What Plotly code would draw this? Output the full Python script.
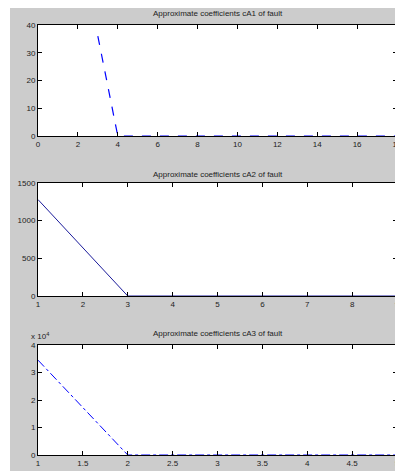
import plotly.graph_objects as go
from plotly.subplots import make_subplots

# Data
titles = ["Approximate coefficients cA1 of fault",
          "Approximate coefficients cA2 of fault",
          "Approximate coefficients cA3 of fault"]
x1 = [3, 4, 5, 6, 7, 8, 9, 10, 11, 12, 13, 14, 15, 16, 17, 18]
y1 = [36, 0, 0, 0, 0, 0, 0, 0, 0, 0, 0, 0, 0, 0, 0, 0]
x2 = [1, 2, 3, 4, 5, 6, 7, 8, 9]
y2 = [1280, 640, 0, 0, 0, 0, 0, 0, 0]
x3 = [1, 2, 3, 4, 5]
y3 = [34500, 0, 0, 0, 0]

x1_ticks = [0, 2, 4, 6, 8, 10, 12, 14, 16, 18]
y1_ticks = [0, 10, 20, 30, 40]
x2_ticks = [1, 2, 3, 4, 5, 6, 7, 8, 9]
y2_ticks = [0, 500, 1000, 1500]
x3_ticks = [1, 1.5, 2, 2.5, 3, 3.5, 4, 4.5, 5]
x3_text = ["1", "1.5", "2", "2.5", "3", "3.5", "4", "4.5", "5"]
y3_ticks = [0, 10000, 20000, 30000, 40000]
y3_text = ["0", "1", "2", "3", "4"]

OFF = 8  # page body margin
W, H = 403 - OFF, 471 - OFF
L, R, T, B = 38 - OFF, 403 - 397, 25 - OFF, 471 - 455
pw, ph = W - L - R, H - T - B

def fy(py):
    return (H - B - (py - OFF)) / ph

def fx(px):
    return (px - OFF - L) / pw

fig = make_subplots(rows=3, cols=1)
blue = "#0000ff"
fig.add_trace(go.Scatter(x=x1, y=y1, mode="lines", line=dict(color=blue, width=1.2, dash="dash")), row=1, col=1)
fig.add_trace(go.Scatter(x=x2, y=y2, mode="lines", line=dict(color="#1a1a9a", width=1)), row=2, col=1)
fig.add_trace(go.Scatter(x=x3, y=y3, mode="lines", line=dict(color=blue, width=1, dash="dashdot")), row=3, col=1)

font = dict(family="Liberation Sans, Arial", size=8, color="#222")
ax_common = dict(showgrid=False, zeroline=False, showline=True, linecolor="black", linewidth=1,
                 mirror="ticks", ticks="inside", ticklen=4, tickcolor="black", tickfont=font,
                 ticklabeloverflow="allow", automargin=False)

doms = [(fy(136), fy(25)), (fy(296), fy(183)), (fy(455), fy(345))]
fig.update_layout(
    xaxis=dict(ax_common, range=[0, 18], tickvals=x1_ticks),
    yaxis=dict(ax_common, range=[0, 40], tickvals=y1_ticks, domain=list(doms[0])),
    xaxis2=dict(ax_common, range=[1, 9], tickvals=x2_ticks),
    yaxis2=dict(ax_common, range=[0, 1500], tickvals=y2_ticks, domain=list(doms[1])),
    xaxis3=dict(ax_common, range=[1, 5], tickvals=x3_ticks, ticktext=x3_text),
    yaxis3=dict(ax_common, range=[0, 40000], tickvals=y3_ticks, ticktext=y3_text, domain=list(doms[2])),
)

shapes = [dict(type="rect", xref="paper", yref="paper", layer="below",
               x0=fx(10), x1=fx(403), y0=fy(471), y1=fy(8),
               fillcolor="#cccccc", line=dict(width=0))]
for i in ["", "2", "3"]:
    shapes.append(dict(type="rect", xref="x%s domain" % i, yref="y%s domain" % i, layer="below",
                       x0=0, x1=1, y0=0, y1=1, fillcolor="white", line=dict(width=0)))
annotations = []
title_y = [14, 174, 333]
for t, ty in zip(titles, title_y):
    annotations.append(dict(text=t, xref="paper", yref="paper", x=0.5, y=fy(ty),
                            showarrow=False, font=font, xanchor="center", yanchor="middle"))
annotations.append(dict(text="x 10<sup>4</sup>", xref="paper", yref="paper",
                        x=fx(29), y=fy(336), showarrow=False, font=font,
                        xanchor="left", yanchor="middle"))

fig.update_layout(width=W, height=H, margin=dict(l=L, r=R, t=T, b=B),
                  paper_bgcolor="white", plot_bgcolor="white", showlegend=False,
                  shapes=shapes, annotations=annotations)
fig.write_html("out.html")
